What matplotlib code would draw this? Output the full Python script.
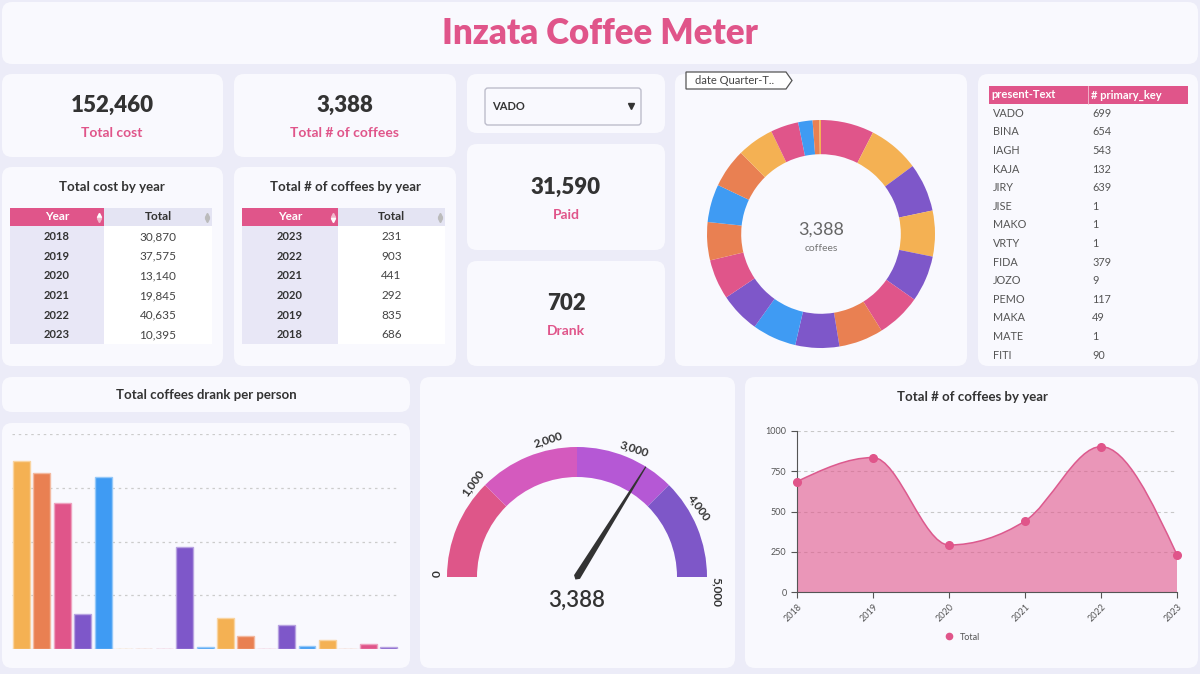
import numpy as np
import matplotlib.pyplot as plt
from matplotlib.patches import FancyBboxPatch, Rectangle, Wedge, Polygon, PathPatch
from matplotlib.path import Path
from matplotlib.lines import Line2D
from matplotlib.colors import to_rgb

plt.rcParams['font.family'] = ['Lato', 'DejaVu Sans']

W, H = 1200, 674

# ---- data ----
dash_title = "Inzata Coffee Meter"
total_cost = 152460
total_coffees = 3388
selected_person = "VADO"
paid = 31590
drank = 702

cost_years = [2018, 2019, 2020, 2021, 2022, 2023]
cost_totals = [30870, 37575, 13140, 19845, 40635, 10395]

count_years = [2023, 2022, 2021, 2020, 2019, 2018]
count_totals = [231, 903, 441, 292, 835, 686]

people = ["VADO", "BINA", "IAGH", "KAJA", "JIRY", "JISE", "MAKO",
          "VRTY", "FIDA", "JOZO", "PEMO", "MAKA", "MATE", "FITI"]
people_counts = [699, 654, 543, 132, 639, 1, 1, 1, 379, 9, 117, 49, 1, 90]

# bar chart shows all persons (the table above is cut after FITI)
bar_values = people_counts + [13, 35, 1, 18, 6]

# coffees per quarter (donut), clockwise from 12 o'clock
quarter_counts = [255, 248, 232, 220, 222, 215, 214, 211, 212, 194,
                  192, 183, 182, 188, 177, 134, 69, 32, 8]

gauge_max = 5000
gauge_bands = [0, 1250, 2500, 3750, 5000]
gauge_ticks = [0, 1000, 2000, 3000, 4000, 5000]

line_years = [2018, 2019, 2020, 2021, 2022, 2023]
line_totals = [686, 835, 292, 441, 903, 231]

# ---- colours ----
BG = '#ECECF8'
CARD = '#F9F9FE'
PINK = '#E0558A'
YELLOW = '#F4B153'
ORANGE = '#E98052'
PURPLE = '#7E57C9'
BLUE = '#3F9BF3'
DARK = '#333333'
LAV = '#E8E7F6'

bar_cycle = [YELLOW, ORANGE, PINK, PURPLE, BLUE]
donut_colors = [PINK, YELLOW, PURPLE, YELLOW, PURPLE, PINK, ORANGE, PURPLE,
                BLUE, PURPLE, PINK, ORANGE, BLUE, ORANGE, YELLOW, PINK,
                BLUE, ORANGE, YELLOW]
gauge_colors = ['#DE5689', '#D45ABE', '#B558D5', '#7E57C8']


def px_rect(x0, y0, x1, y1):
    return [x0 / W, 1 - y1 / H, (x1 - x0) / W, (y1 - y0) / H]


def lighten(c, f=0.45):
    r, g, b = to_rgb(c)
    return (r + (1 - r) * f, g + (1 - g) * f, b + (1 - b) * f)


fig = plt.figure(figsize=(12, 6.74), dpi=100)
fig.patch.set_facecolor(BG)
bg = fig.add_axes([0, 0, 1, 1])
bg.set_xlim(0, W)
bg.set_ylim(H, 0)
bg.axis('off')


def card(x0, y0, x1, y1, r=10, fc=CARD, ec='none', lw=0):
    bg.add_patch(FancyBboxPatch((x0, y0), x1 - x0, y1 - y0,
                                boxstyle=f"round,pad=0,rounding_size={r}",
                                fc=fc, ec=ec, lw=lw))


for c in [(2, 2, 1198, 64), (2, 74, 223, 157), (234, 74, 456, 157),
          (467, 74, 665, 133), (467, 144, 665, 250), (467, 261, 665, 366),
          (675, 74, 967, 366), (978, 74, 1198, 366),
          (2, 167, 223, 366), (234, 167, 456, 366),
          (2, 377, 410, 412), (2, 423, 410, 668),
          (420, 377, 735, 668), (745, 377, 1198, 668)]:
    card(*c)

# title
bg.text(600, 33, dash_title, ha='center', va='center', fontsize=25,
        fontweight='heavy', color=PINK)

# KPI cards
def kpi(x, y, value, label):
    bg.text(x, y, f"{value:,}", ha='center', va='center', fontsize=16,
            fontweight='heavy', color=DARK)
    bg.text(x, y + 28, label, ha='center', va='center', fontsize=10,
            fontweight='bold', color=PINK)


kpi(112, 105, total_cost, "Total cost")
kpi(345, 105, total_coffees, "Total # of coffees")
kpi(566, 187, paid, "Paid")
kpi(566, 303, drank, "Drank")

# dropdown
bg.add_patch(FancyBboxPatch((485, 88), 156, 37, boxstyle="round,pad=0,rounding_size=3",
                            fc=CARD, ec='#BDBDCB', lw=1))
bg.text(492, 107, selected_person, ha='left', va='center', fontsize=8,
        fontweight='bold', color=DARK)
bg.plot([631], [106], marker='v', ms=4.5, color=DARK)


# year tables
def year_table(x0, xm, x1, tx, title, years, totals, up_active):
    bg.text(tx, 187, title, ha='center', va='center', fontsize=9.5,
            fontweight='bold', color=DARK)
    bg.add_patch(Rectangle((x0, 208), xm - x0, 18, fc=PINK, ec='none'))
    bg.add_patch(Rectangle((xm, 208), x1 - xm, 18, fc='#E4E4F3', ec='none'))
    bg.add_patch(Rectangle((x0, 226), xm - x0, 118, fc=LAV, ec='none'))
    bg.add_patch(Rectangle((xm, 226), x1 - xm, 118, fc='white', ec='none'))
    bg.text((x0 + xm) / 2, 217, "Year", ha='center', va='center', fontsize=8.5,
            fontweight='bold', color='white')
    bg.text((xm + x1) / 2, 217, "Total", ha='center', va='center', fontsize=8.5,
            fontweight='bold', color=DARK)
    bg.plot([xm - 5], [214.5], marker='^', ms=3,
            color='white' if up_active else '#F2B8CC')
    bg.plot([xm - 5], [219.5], marker='v', ms=3,
            color='#F2B8CC' if up_active else 'white')
    bg.plot([x1 - 5], [214.5], marker='^', ms=3, color='#BBBBBB')
    bg.plot([x1 - 5], [219.5], marker='v', ms=3, color='#BBBBBB')
    for i, (yr, v) in enumerate(zip(years, totals)):
        yy = 236.5 + i * 19.7
        bg.text((x0 + xm) / 2, yy, str(yr), ha='center', va='center',
                fontsize=8, fontweight='bold', color=DARK)
        bg.text((xm + x1) / 2, yy, f"{v:,}", ha='center', va='center',
                fontsize=8.5, color='#444444')


year_table(10, 104, 212, 112, "Total cost by year", cost_years, cost_totals, True)
year_table(242, 338, 445, 345, "Total # of coffees by year", count_years, count_totals, False)

# right table
bg.add_patch(Rectangle((989, 86), 199, 18, fc=PINK, ec='none'))
bg.plot([1088, 1088], [86, 104], color='#F4C0D3', lw=0.6)
bg.text(991, 95, "present-Text", ha='left', va='center', fontsize=8,
        fontweight='bold', color='white')
bg.text(1091, 95, "# primary_key", ha='left', va='center', fontsize=8,
        fontweight='bold', color='white')
for i, (p, v) in enumerate(zip(people, people_counts)):
    yy = 113.3 + i * 18.6
    bg.text(993, yy, p, ha='left', va='center', fontsize=7.8, color='#555555')
    bg.text(1092, yy, str(v), ha='left', va='center', fontsize=7.8, color='#555555')

# donut
ax_d = fig.add_axes(px_rect(821 - 114, 234 - 114, 821 + 114, 234 + 114))
ax_d.pie(quarter_counts, colors=donut_colors, startangle=90, counterclock=False,
         radius=1, wedgeprops=dict(width=0.3, edgecolor='none'))
ax_d.set_xlim(-1, 1)
ax_d.set_ylim(-1, 1)
ax_d.axis('off')
ax_d.text(0, 0.04, f"{total_coffees:,}", ha='center', va='center', fontsize=13, color='#666666')
ax_d.text(0, -0.13, "coffees", ha='center', va='center', fontsize=7.5, color='#777777')

# tag above donut
bg.add_patch(Polygon([(686, 72), (786, 72), (792, 80.5), (786, 89), (686, 89)],
                     closed=True, fc='white', ec='#555555', lw=0.9))
bg.text(695, 80.5, "date Quarter-T..", ha='left', va='center', fontsize=8, color='#444444')

# bar chart
bg.text(206, 395, "Total coffees drank per person", ha='center', va='center',
        fontsize=9.5, fontweight='bold', color=DARK)
ax_b = fig.add_axes(px_rect(12, 434, 400, 649))
ax_b.set_facecolor('none')
xb = np.arange(len(bar_values))
bcols = [bar_cycle[i % 5] for i in range(len(bar_values))]
ax_b.bar(xb, bar_values, width=0.83, color=bcols,
         edgecolor=[lighten(c) for c in bcols], linewidth=1.0, zorder=3)
ax_b.set_xlim(-0.466, len(bar_values) - 0.44)
ax_b.set_ylim(0, 800)
ax_b.set_yticks([0, 200, 400, 600, 800])
ax_b.grid(axis='y', color='#CCCCCC', lw=0.9, ls=(0, (2, 3)))
ax_b.tick_params(left=False, bottom=False, labelleft=False, labelbottom=False)
for s in ax_b.spines.values():
    s.set_visible(False)

# gauge
ax_g = fig.add_axes(px_rect(427, 427, 727, 617))
ax_g.set_xlim(-150, 150)
ax_g.set_ylim(-40, 150)
ax_g.axis('off')


def v2ang(v):
    return 180 - v / gauge_max * 180


for v0, v1, col in zip(gauge_bands[:-1], gauge_bands[1:], gauge_colors):
    ax_g.add_patch(Wedge((0, 0), 130, v2ang(v1), v2ang(v0), width=30, fc=col, ec='none'))
for t in gauge_ticks:
    a = np.radians(v2ang(t))
    ax_g.text(134 * np.cos(a), 134 * np.sin(a), f"{t:,}", rotation=np.degrees(a) - 90,
              rotation_mode='anchor', ha='left', va='bottom', fontsize=8.5,
              fontweight='bold', color=DARK)
a = np.radians(v2ang(total_coffees))
d = np.array([np.cos(a), np.sin(a)])
n = np.array([-np.sin(a), np.cos(a)])
needle = [3.5 * n, 130 * d + 0.6 * n, 130 * d - 0.6 * n, -3.5 * n, -3 * d]
ax_g.add_patch(Polygon(needle, closed=True, fc=DARK, ec='none'))
ax_g.text(0, -23, f"{total_coffees:,}", ha='center', va='center', fontsize=16,
          fontweight='semibold', color=DARK)

# line chart
bg.text(972, 397, "Total # of coffees by year", ha='center', va='center',
        fontsize=9.5, fontweight='bold', color=DARK)
ax_l = fig.add_axes(px_rect(797, 431, 1177, 592))
ax_l.set_facecolor('none')
xs = np.array(line_years, dtype=float)
ys = np.array(line_totals, dtype=float)
h = np.diff(xs)
s = np.diff(ys) / h
t = np.zeros_like(ys)
for i in range(1, len(ys) - 1):
    p = (s[i - 1] * h[i] + s[i] * h[i - 1]) / (h[i - 1] + h[i])
    t[i] = (np.sign(s[i - 1]) + np.sign(s[i])) * min(abs(s[i - 1]), abs(s[i]), 0.5 * abs(p))
t[0] = (3 * s[0] - t[1]) / 2
t[-1] = (3 * s[-1] - t[-2]) / 2
verts = [(xs[0], ys[0])]
codes = [Path.MOVETO]
for i in range(len(xs) - 1):
    dx = h[i] / 3
    verts += [(xs[i] + dx, ys[i] + dx * t[i]), (xs[i + 1] - dx, ys[i + 1] - dx * t[i + 1]),
              (xs[i + 1], ys[i + 1])]
    codes += [Path.CURVE4] * 3
fill_path = Path(verts + [(xs[-1], 0), (xs[0], 0), (xs[0], ys[0])],
                 codes + [Path.LINETO, Path.LINETO, Path.CLOSEPOLY])
ax_l.add_patch(PathPatch(fill_path, fc=PINK, alpha=0.6, ec='none', zorder=2))
ax_l.add_patch(PathPatch(Path(verts, codes), fc='none', ec='#DC5A8E', lw=1.1, zorder=3))
ax_l.plot(xs, ys, 'o', color=PINK, ms=5.5, zorder=4, clip_on=False)
ax_l.set_xlim(2018, 2023)
ax_l.set_ylim(0, 1000)
ax_l.set_xticks(line_years)
ax_l.set_xticklabels([str(y) for y in line_years], rotation=45, ha='right',
                     va='top', rotation_mode='anchor')
ax_l.set_yticks([0, 250, 500, 750, 1000])
ax_l.tick_params(labelsize=6.5, labelcolor='#555555', color='#555555', length=4)
ax_l.grid(axis='y', color='#C8C8C8', lw=0.8, ls=(0, (3, 3)), zorder=1)
ax_l.set_axisbelow(True)
for k in ['top', 'right']:
    ax_l.spines[k].set_visible(False)
for k in ['left', 'bottom']:
    ax_l.spines[k].set_color('#555555')
ax_l.legend(handles=[Line2D([], [], marker='o', ls='', color=PINK, ms=4.5, label='Total')],
            loc='center', bbox_to_anchor=(960 / W, 1 - 637 / H),
            bbox_transform=fig.transFigure, frameon=False, fontsize=6.5,
            handletextpad=0.1, labelcolor='#555555')

fig.savefig('out.png', dpi=100, facecolor=BG)
